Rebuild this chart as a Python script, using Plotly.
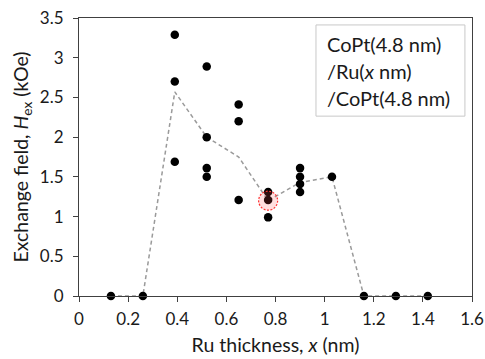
import plotly.graph_objects as go

# Individual measurements
pts_x = [0.13, 0.26,
         0.39, 0.39, 0.39,
         0.52, 0.52, 0.52, 0.52,
         0.65, 0.65, 0.65,
         0.77, 0.77, 0.77,
         0.90, 0.90, 0.90, 0.90,
         1.03, 1.16, 1.29, 1.42]
pts_y = [0.0, 0.0,
         3.29, 2.70, 1.69,
         2.89, 2.00, 1.61, 1.50,
         2.41, 2.20, 1.21,
         1.31, 1.21, 0.99,
         1.61, 1.50, 1.41, 1.31,
         1.50, 0.0, 0.0, 0.0]

# Average trend (dashed line)
avg_x = [0.13, 0.26, 0.39, 0.52, 0.65, 0.77, 0.90, 1.03, 1.16, 1.29, 1.42]
avg_y = [0.0, 0.0, 2.57, 2.00, 1.75, 1.20, 1.43, 1.50, 0.0, 0.0, 0.0]

# Highlighted point
hl_x = 0.77
hl_y = 1.20

x_ticks = [0, 0.2, 0.4, 0.6, 0.8, 1.0, 1.2, 1.4, 1.6]
x_ticklabels = ["0", "0.2", "0.4", "0.6", "0.8", "1", "1.2", "1.4", "1.6"]
y_ticks = [0, 0.5, 1, 1.5, 2, 2.5, 3, 3.5]
y_ticklabels = ["0", "0.5", "1", "1.5", "2", "2.5", "3", "3.5"]

legend_lines = ["CoPt(4.8 nm)", "/Ru(<i>x</i> nm)", "/CoPt(4.8 nm)"]

FONT = "Lato"
TXT = "#1a1a1a"
AX = "#404040"

fig = go.Figure()
fig.add_trace(go.Scatter(
    x=avg_x, y=avg_y, mode="lines",
    line=dict(color="#9a9a9a", width=1.5, dash="4px,3px"),
    hoverinfo="skip", showlegend=False))
fig.add_trace(go.Scatter(
    x=pts_x, y=pts_y, mode="markers",
    marker=dict(color="black", size=8.5, line=dict(width=0)),
    showlegend=False, cliponaxis=False))

fig.add_shape(type="circle", xref="x", yref="y",
              xsizemode="pixel", ysizemode="pixel",
              xanchor=hl_x, yanchor=hl_y,
              x0=-9.5, x1=9.5, y0=-9.5, y1=9.5,
              line=dict(color="#ff3030", width=1.2, dash="2px,1.5px"),
              fillcolor="rgba(255,80,80,0.18)", layer="above")

# legend box
fig.add_shape(type="rect", xref="paper", yref="paper",
              x0=0.603, x1=0.982, y0=0.647, y1=0.975,
              line=dict(color="#c8c8c8", width=1), fillcolor="white", layer="above")
for i, t in enumerate(legend_lines):
    fig.add_annotation(xref="paper", yref="paper", x=0.627, y=[0.908, 0.809, 0.713][i],
                       text=t, showarrow=False, xanchor="left", yanchor="middle",
                       font=dict(family=FONT, size=20, color=TXT))

fig.update_layout(
    width=485, height=359,
    margin=dict(l=79, r=13, t=18, b=63, autoexpand=False),
    paper_bgcolor="white", plot_bgcolor="white",
    font=dict(family=FONT, size=17, color=TXT),
    xaxis=dict(range=[0, 1.6], tickvals=x_ticks, ticktext=x_ticklabels,
               showgrid=False, zeroline=False, showline=True, linecolor=AX, linewidth=1,
               mirror=True, ticks="outside", ticklen=5, tickcolor=AX,
               ticklabelstandoff=3, automargin=False,
               tickfont=dict(family=FONT, size=17, color=TXT),
               title=dict(text="Ru thickness, <i>x</i> (nm)", font=dict(family=FONT, size=19.5, color=TXT),
                          standoff=9)),
    yaxis=dict(range=[0, 3.5], tickvals=y_ticks, ticktext=y_ticklabels,
               showgrid=False, zeroline=False, showline=True, linecolor=AX, linewidth=1,
               mirror=True, ticks="outside", ticklen=5, tickcolor=AX,
               ticklabelstandoff=6, automargin=False,
               tickfont=dict(family=FONT, size=17, color=TXT),
               title=dict(text="Exchange field, <i>H</i><sub>ex</sub> (kOe)",
                          font=dict(family=FONT, size=19.5, color=TXT), standoff=6)),
)

fig.write_html("out.html")
